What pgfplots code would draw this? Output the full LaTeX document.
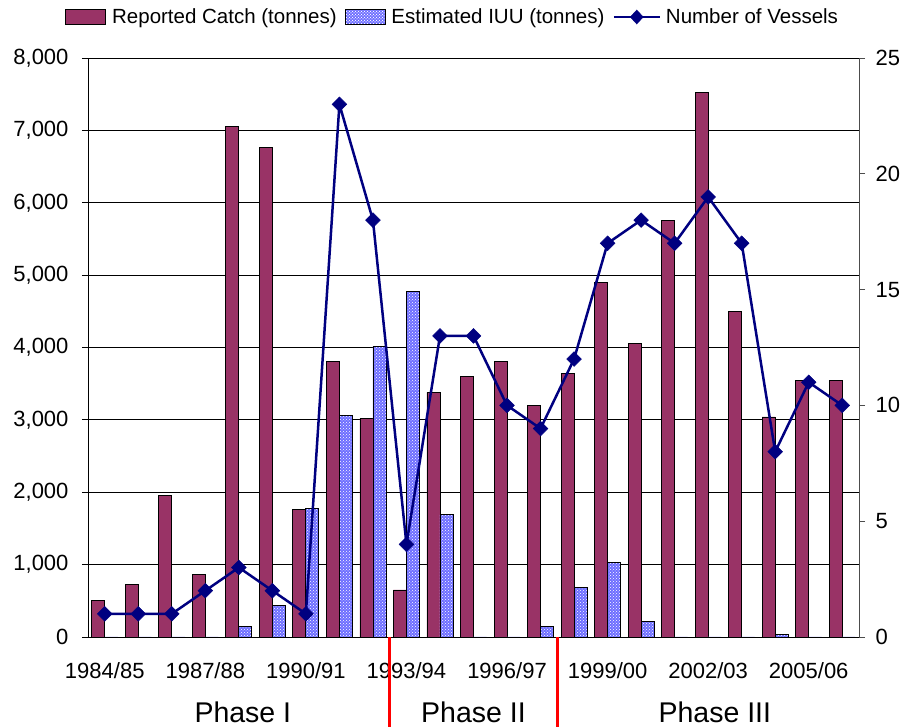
\documentclass[border=0pt]{standalone}
\usepackage{fontspec}
\setmainfont{Liberation Sans}
\usepackage{pgfplots}
\pgfplotsset{compat=1.18}
\usepackage{pgfplotstable}
\usetikzlibrary{patterns}
\definecolor{catch}{RGB}{153,51,102}
\definecolor{iuu}{RGB}{110,110,255}
\definecolor{navy}{RGB}{0,0,128}

\pgfplotstableread{
idx rep iuu ves
0 510 0 1
1 730 0 1
2 1960 0 1
3 870 0 2
4 7060 150 3
5 6770 440 2
6 1760 1780 1
7 3810 3060 23
8 3020 4020 18
9 650 4780 4
10 3380 1690 13
11 3600 0 13
12 3810 0 10
13 3200 150 9
14 3640 680 12
15 4900 1030 17
16 4050 210 18
17 5750 0 17
18 7530 0 19
19 4500 0 17
20 3040 30 8
21 3540 0 11
22 3540 0 10
}\data

\begin{document}
\begin{tikzpicture}[x=1pt,y=1pt]
\useasboundingbox (-88,-90) rectangle (814,637);
\begin{axis}[
  at={(0,0)}, anchor=south west,
  scale only axis, width=771pt, height=579pt,
  xmin=-0.5, xmax=22.5, ymin=0, ymax=8000,
  axis y line*=left, axis x line*=bottom,
  axis line style={black, line width=0.8pt},
  ybar=0pt, bar width=13pt,
  xtick={0,...,22},
  xticklabels={1984/85,,,1987/88,,,1990/91,,,1993/94,,,1996/97,,,1999/00,,,2002/03,,,2005/06,},
  minor xtick={-0.5,0.5,...,22.5},
  xtick style={draw=none},
  minor x tick style={black, line width=0.8pt},
  minor tick length=6pt,
  major tick length=6pt,
  tick align=outside,
  ytick={0,1000,...,8000},
  ytick style={black, line width=0.8pt},
  ymajorgrids, major grid style={black, line width=0.8pt},
  /pgf/number format/fixed, /pgf/number format/1000 sep={,}, /pgf/number format/assume math mode=true,
  y tick label style={font=\fontsize{22}{26}\selectfont, xshift=-10pt},
  x tick label style={font=\fontsize{22}{26}\selectfont, yshift=-16pt},
  clip=false,
  legend style={at={(0.473,1.0708)}, anchor=center, draw=none, fill=none,
    legend columns=-1, font=\fontsize{20.5}{24}\selectfont,
    /tikz/every even column/.append style={column sep=6pt},
    inner sep=0pt},
  legend cell align=left,
]
\addplot[fill=catch, draw=black, line width=0.8pt,
  legend image code/.code={\draw[fill=catch, draw=black, line width=0.8pt] (0pt,-7.5pt) rectangle (40pt,7.5pt); \path (44pt,0pt);}]
  table[x=idx, y=rep]{\data};
\addlegendentry{Reported Catch (tonnes)}
\addplot[fill=iuu, draw=black, line width=0.8pt, postaction={pattern=crosshatch dots, pattern color=white},
  legend image code/.code={\draw[fill=iuu, draw=black, line width=0.8pt, postaction={pattern=crosshatch dots, pattern color=white}] (0pt,-7.5pt) rectangle (40pt,7.5pt); \path (44pt,0pt);}]
  table[x=idx, y=iuu]{\data};
\addlegendentry{Estimated IUU (tonnes)}
\addlegendimage{legend image code/.code={\draw[navy, line width=2.5pt] (0pt,0pt) -- (46pt,0pt); \fill[navy] (23pt,0pt) ++(0,7pt) -- ++(6.5pt,-7pt) -- ++(-6.5pt,-7pt) -- ++(-6.5pt,7pt) -- cycle; \path (50pt,0pt);}}
\addlegendentry{Number of Vessels}
\draw[red, line width=3pt] (axis cs:8.5,0) -- ++(0pt,-90pt);
\draw[red, line width=3pt] (axis cs:13.5,0) -- ++(0pt,-90pt);
\node[font=\fontsize{28.5}{32}\selectfont] at (axis cs:4.12,0) [yshift=-75pt] {Phase I};
\node[font=\fontsize{28.5}{32}\selectfont] at (axis cs:11,0) [yshift=-75pt] {Phase II};
\node[font=\fontsize{28.5}{32}\selectfont] at (axis cs:18.2,0) [yshift=-75pt] {Phase III};
\end{axis}
\begin{axis}[
  at={(0,0)}, anchor=south west,
  scale only axis, width=771pt, height=579pt,
  xmin=-0.5, xmax=22.5, ymin=0, ymax=25,
  axis y line*=right, axis x line=none,
  y axis line style={black!70, line width=0.8pt},
  ytick={0,5,...,25},
  ytick style={black!70, line width=0.8pt},
  tick align=outside, major tick length=6pt,
  /pgf/number format/assume math mode=true,
  yticklabel style={font=\fontsize{22}{26}\selectfont, xshift=7pt},
  clip=false,
]
\addplot[navy, line width=2.5pt, mark=square*, mark size=5.2pt, mark options={rotate=45, line width=0.5pt}]
  table[x=idx, y=ves]{\data};
\end{axis}
\end{tikzpicture}
\end{document}
